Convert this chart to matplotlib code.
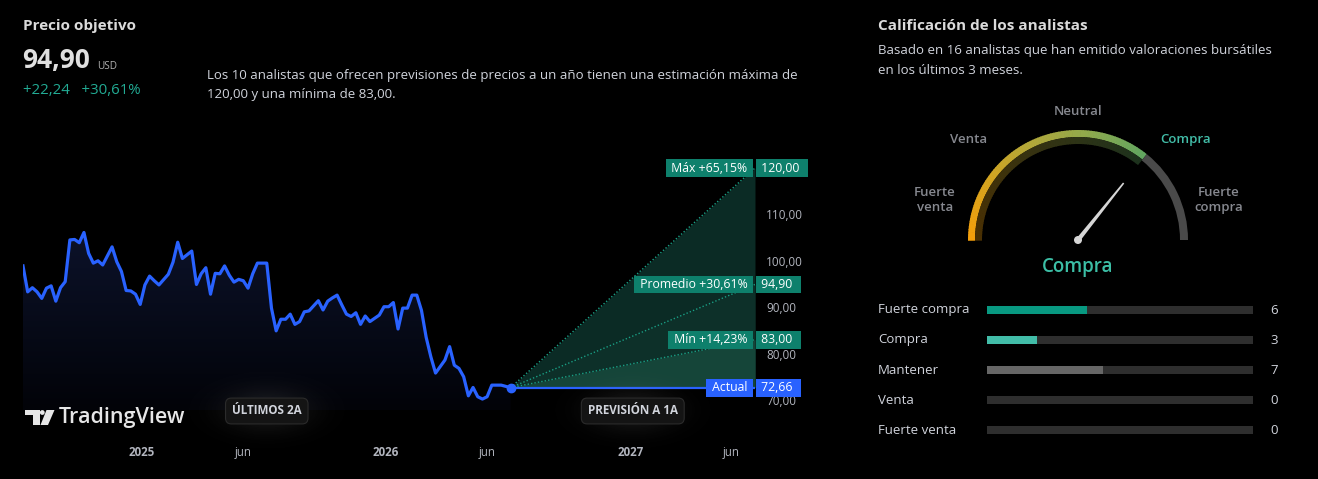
import numpy as np
import pandas as pd
import matplotlib
matplotlib.use("Agg")
import matplotlib.pyplot as plt
import matplotlib.dates as mdates
from matplotlib.patches import Wedge, Circle, Polygon
from matplotlib.colors import LinearSegmentedColormap
from matplotlib.transforms import blended_transform_factory, ScaledTranslation

plt.rcParams['font.family'] = ['Open Sans', 'DejaVu Sans']

# ---- data ----
start_date = "2024-07-08"
weeks = [0, 1, 2, 3, 4, 5, 6, 7, 8, 9, 10, 11, 12, 13, 14, 15, 16, 17, 19, 20,
         21, 22, 23, 24, 25, 26, 27, 28, 29, 31, 32, 33, 34, 35, 36, 37, 38, 39, 40, 41,
         42, 43, 44, 45, 46, 47, 48, 49, 50, 52, 53, 54, 55, 56, 57, 58, 59, 60, 61, 62,
         63, 64, 65, 66, 67, 68, 69, 70, 71, 72, 73, 74, 75, 76, 77, 78, 79, 80, 81, 82,
         83, 84, 85, 86, 87, 88, 90, 91, 92, 93, 94, 95, 96, 97, 98, 99, 100, 102, 104]
prices = [98.9, 93.3, 94.2, 93.3, 91.9, 94.1, 94.6, 91.3, 94.2, 95.5, 104.5, 104.6, 103.9, 106.1, 101.6, 99.5, 100.0, 99.1, 103.0, 99.8,
          97.7, 93.6, 93.5, 92.8, 90.6, 94.8, 96.7, 95.7, 94.8, 97.1, 99.7, 104.0, 100.5, 101.3, 102.1, 94.9, 97.2, 98.5, 92.8, 97.3,
          97.2, 98.9, 96.9, 95.4, 96.0, 95.7, 94.1, 97.2, 99.5, 99.5, 89.8, 84.9, 87.4, 87.4, 88.5, 86.3, 86.9, 89.0, 89.2, 90.3,
          91.4, 89.4, 91.3, 92.0, 92.6, 90.5, 88.5, 88.0, 88.8, 86.3, 88.1, 86.9, 87.6, 88.3, 90.1, 90.1, 91.0, 85.3, 89.8, 89.8,
          92.6, 92.6, 89.3, 83.5, 79.3, 75.8, 78.6, 81.5, 77.5, 76.8, 75.0, 70.9, 72.7, 70.7, 70.2, 70.7, 73.2, 73.2, 72.66]
current_price = 72.66
target_max = 120.00
target_avg = 94.90
target_min = 83.00
n_target_analysts = 10
y_ticks = [70, 80, 90, 100, 110]
xtick_dates = ["2025-01-01", "2025-06-01", "2026-01-01", "2026-06-01", "2027-01-01", "2027-06-01"]
xtick_labels = ["2025", "jun", "2026", "jun", "2027", "jun"]

rating_labels = ["Fuerte compra", "Compra", "Mantener", "Venta", "Fuerte venta"]
rating_counts = [6, 3, 7, 0, 0]
rating_colors = ["#089981", "#42bda8", "#666666", "#666666", "#666666"]
gauge_score = 0.43          # 0 = neutral, 1 = strong buy
gauge_result = "Compra"

W, H = 1318, 479
teal_tag = "#0e806c"
blue = "#2962ff"


def fmt(v):
    return f"{v:.2f}".replace(".", ",")


def pct(v):
    return fmt((v / current_price - 1) * 100)


def fx(px):
    return px / W


def fy(py):
    return 1 - py / H


fig = plt.figure(figsize=(W / 100, H / 100), dpi=100, facecolor="black")

# ---- price chart ----
ax = fig.add_axes([fx(23), fy(410), fx(755) - fx(23), (410 - 150) / H])
ax.set_facecolor("black")
dates = pd.Timestamp(start_date) + pd.to_timedelta(np.array(weeks) * 7, unit="D")
now = dates[-1]
end = now + pd.DateOffset(years=1)
y_low, y_high = 67.84, 123.88

ax.plot(dates, prices, color=blue, lw=2.3, zorder=5, solid_joinstyle="round")

# gradient under the history line
poly = ax.fill_between(dates, prices, y_low, color="none", lw=0)
t = np.linspace(0, 1, 256)[:, None]
top = np.array([12, 18, 42]) / 255
bot = np.array([2, 3, 8]) / 255
grad = np.ones((256, 1, 4))
grad[:, 0, :3] = bot + (top - bot) * t
im = ax.imshow(grad, extent=[mdates.date2num(dates[0]), mdates.date2num(now), y_low, max(prices)],
               aspect="auto", origin="lower", zorder=1)
im.set_clip_path(poly.get_paths()[0], transform=ax.transData)

# forecast fan
fan = [now, end]
for target, col in [(target_max, "#0b2b25"), (target_avg, "#0d3029"), (target_min, "#154539")]:
    ax.fill_between(fan, [current_price, target], [current_price, current_price], color=col, lw=0, zorder=2)
    ax.plot(fan, [current_price, target], color="#1a9e84", lw=1, ls=(0, (1, 1.5)), zorder=3)
ax.plot(fan, [current_price, current_price], color=blue, lw=1.6, zorder=4)
ax.plot([now], [current_price], "o", ms=6, color=blue, zorder=6)

ax.set_xlim(pd.Timestamp(start_date), end)
ax.set_ylim(y_low, y_high)
for s in ax.spines.values():
    s.set_visible(False)
ax.yaxis.tick_right()
ax.set_yticks(y_ticks)
ax.set_yticklabels([fmt(v) for v in y_ticks])
ax.tick_params(axis="y", length=0, pad=8, labelsize=8.5, labelcolor="#b2b5be")
ax.set_xticks(pd.to_datetime(xtick_dates))
ax.set_xticklabels(xtick_labels)
ax.tick_params(axis="x", length=0, pad=26, labelsize=8.3, labelcolor="#b2b5be")
for lbl in ax.get_xticklabels():
    if lbl.get_text().isdigit():
        lbl.set_fontweight("bold")

# price tags
tr = blended_transform_factory(ax.transAxes, ax.transData)


def tag(y, s, fc, dx, ha):
    off = ScaledTranslation(dx / 100, 0, fig.dpi_scale_trans)
    ax.text(1.0, y, s, transform=tr + off, ha=ha, va="center", fontsize=8.8, color="white",
            bbox=dict(boxstyle="square,pad=0.2", fc=fc, ec="none"), zorder=10)


tag(target_max, f" {fmt(target_max)}  ", teal_tag, 3, "left")
tag(target_max, f" Máx +{pct(target_max)}% ", teal_tag, -4.5, "right")
tag(target_avg, f" {fmt(target_avg)}  ", teal_tag, 3, "left")
tag(target_avg, f" Promedio +{pct(target_avg)}% ", teal_tag, -4.5, "right")
tag(target_min, f" {fmt(target_min)}  ", teal_tag, 3, "left")
tag(target_min, f" Mín +{pct(target_min)}% ", teal_tag, -4.5, "right")
tag(current_price, f" {fmt(current_price)}  ", blue, 3, "left")
tag(current_price, " Actual ", blue, -4.5, "right")

# period badges with soft glow
trb = blended_transform_factory(ax.transData, fig.transFigure)
gy, gx = np.mgrid[-1:1:60j, -1:1:160j]
glow = np.zeros((60, 160, 4))
glow[..., :3] = 0.6
glow[..., 3] = np.exp(-(gx ** 2 + gy ** 2) * 3.5) * 0.16
for a, b, s in [(dates[0], now, "ÚLTIMOS 2A"), (now, end, "PREVISIÓN A 1A")]:
    xm = a + (b - a) / 2
    xc = mdates.date2num(xm)
    ax.imshow(glow, extent=[xc - 125, xc + 125, y_low - 9, y_low + 9], aspect="auto",
              zorder=8, clip_on=False)
    ax.text(xm, fy(411), s, transform=trb, ha="center", va="center", fontsize=8.4,
            fontweight="bold", color="#d1d4dc", zorder=20,
            bbox=dict(boxstyle="round,pad=0.55,rounding_size=0.5", fc="#141414", ec="#2b2b2b", lw=0.8))
ax.set_xlim(pd.Timestamp(start_date), end)
ax.set_ylim(y_low, y_high)

# ---- overlay for headers, logo, gauge ----
ov = fig.add_axes([0, 0, 1, 1])
ov.set_xlim(0, W)
ov.set_ylim(0, H)
ov.axis("off")
ov.patch.set_alpha(0)


def sy(y):
    return H - y


ov.text(23, sy(26), "Precio objetivo", fontsize=11, fontweight="bold", color="#dbdbdb", va="center")
ov.text(22, sy(60), fmt(target_avg), fontsize=19, fontweight="bold", color="#e0e0e0", va="center")
ov.text(97, sy(66), "USD", fontsize=7.2, color="#b0b0b0", va="center")
ov.text(23, sy(90), f"+{fmt(target_avg - current_price)}   +{pct(target_avg)}%", fontsize=10.8,
        color="#22ab94", va="center")
ov.text(207, sy(75), f"Los {n_target_analysts} analistas que ofrecen previsiones de precios a un año "
        f"tienen una estimación máxima de", fontsize=9.5, color="#d1d4dc", va="center")
ov.text(207, sy(94), f"{fmt(target_max)} y una mínima de {fmt(target_min)}.", fontsize=9.5,
        color="#d1d4dc", va="center")

# TradingView logo
ov.add_patch(Polygon([(25, sy(410)), (40, sy(410)), (40, sy(425)), (32.5, sy(425)), (32.5, sy(415)),
                      (25, sy(415))], fc="#e6e6e6", ec="none"))
ov.add_patch(Circle((42.3, sy(412.5)), 2.4, fc="#e6e6e6", ec="none"))
ov.add_patch(Polygon([(46.5, sy(410)), (54.5, sy(410)), (48, sy(425)), (40.5, sy(425))], fc="#e6e6e6", ec="none"))
ov.text(59, sy(417), "TradingView", fontsize=15.5, fontweight="semibold", color="#e6e6e6", va="center")

# right panel header
ov.text(878, sy(26), "Calificación de los analistas", fontsize=11, fontweight="bold", color="#dbdbdb", va="center")
ov.text(878, sy(50), f"Basado en {sum(rating_counts)} analistas que han emitido valoraciones bursátiles",
        fontsize=9.5, color="#d1d4dc", va="center")
ov.text(878, sy(70), "en los últimos 3 meses.", fontsize=9.5, color="#d1d4dc", va="center")

# gauge
gc = (1078, sy(240))
r_out, ring = 110, 7
needle_deg = 90 * (1 - gauge_score)
cmap = LinearSegmentedColormap.from_list("g", ["#f59f0a", "#d6a41f", "#b2a83a", "#8fa94d", "#62a660"])
n = 90
angs = np.linspace(180, needle_deg, n + 1)
for i in range(n):
    c = np.array(cmap(i / (n - 1))[:3])
    ov.add_patch(Wedge(gc, r_out, angs[i + 1], angs[i] + 0.4, width=ring, fc=c, ec="none"))
    ov.add_patch(Wedge(gc, r_out - ring, angs[i + 1], angs[i] + 0.4, width=ring, fc=c * 0.3, ec="none"))
ov.add_patch(Wedge(gc, r_out, 0, needle_deg, width=8, fc="#4a4a4a", ec="none"))

th = np.radians(needle_deg)
ux, uy = np.cos(th), np.sin(th)
px, py = -uy, ux
L, bw, tw = 73, 2.2, 0.8
ov.add_patch(Polygon([(gc[0] + px * bw, gc[1] + py * bw), (gc[0] + ux * L + px * tw, gc[1] + uy * L + py * tw),
                      (gc[0] + ux * L - px * tw, gc[1] + uy * L - py * tw), (gc[0] - px * bw, gc[1] - py * bw)],
                     fc="#d6d6d6", ec="none"))
ov.add_patch(Circle(gc, 4, fc="#d6d6d6", ec="none"))

gray_lbl = "#86888f"
ov.text(1078, sy(111), "Neutral", fontsize=9.5, fontweight="semibold", color=gray_lbl, ha="center", va="center")
ov.text(969, sy(139), "Venta", fontsize=9.5, fontweight="semibold", color=gray_lbl, ha="center", va="center")
ov.text(1186, sy(139), "Compra", fontsize=9.5, fontweight="semibold", color="#42bda8", ha="center", va="center")
ov.text(935, sy(200), "Fuerte\nventa", fontsize=9.5, fontweight="semibold", color=gray_lbl, ha="center",
        va="center", linespacing=1.25)
ov.text(1219, sy(200), "Fuerte\ncompra", fontsize=9.5, fontweight="semibold", color=gray_lbl, ha="center",
        va="center", linespacing=1.25)
ov.text(1078, sy(267), gauge_result, fontsize=13.5, fontweight="semibold", color="#3cbfa6", ha="center", va="center")

# ---- rating bars ----
total = sum(rating_counts)
bx = fig.add_axes([fx(987), fy(445), fx(266), 150 / H])
bx.set_xlim(0, total)
bx.set_ylim(len(rating_labels) - 0.5, -0.5)
bx.axis("off")
bx.patch.set_alpha(0)
trl = blended_transform_factory(fig.transFigure, bx.transData)
for i, (lab, cnt, col) in enumerate(zip(rating_labels, rating_counts, rating_colors)):
    bx.barh(i, total, height=0.24, color="#2e2e2e")
    if cnt > 0:
        bx.barh(i, cnt, height=0.24, color=col)
    bx.text(fx(878), i, lab, transform=trl, fontsize=9.5, color="#d1d4dc", va="center")
    bx.text(fx(1270), i, str(cnt), transform=trl, fontsize=9.5, color="#d1d4dc", va="center")

fig.savefig("out.png", dpi=100, facecolor="black")
